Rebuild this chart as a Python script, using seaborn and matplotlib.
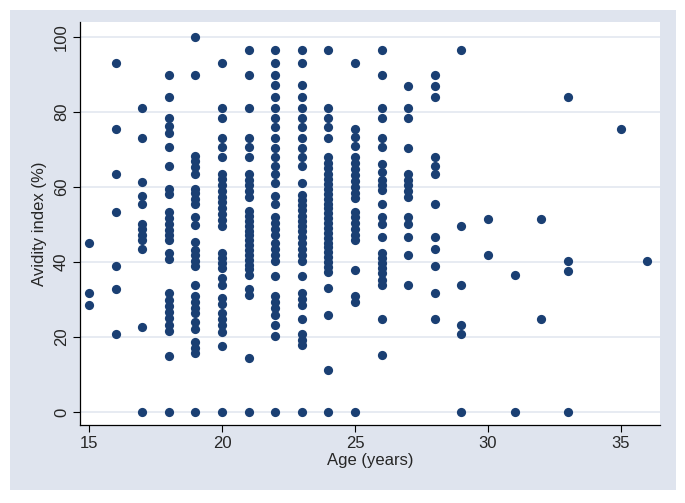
# avidity_scatter.py

import matplotlib
matplotlib.use('Agg')
import matplotlib.pyplot as plt
from matplotlib.patches import Rectangle
import pandas as pd
import seaborn as sns

# avidity index (%) read per age group
age15 = [45.0, 31.8, 28.6]
age16 = [93.2, 75.6, 63.5, 53.3, 38.9, 32.9, 20.9]
age17 = [81.2, 73.1, 61.4, 57.6, 55.5, 50.1, 48.7, 47.2, 45.9, 43.4, 22.6, 0]
age18 = [90.0, 83.9, 78.5, 76.3, 74.3, 70.8, 65.7, 59.6, 58.1, 53.4, 51.7, 50.1,
         48.6, 47.1, 45.8, 42.3, 40.7, 31.6, 29.9, 28.3, 26.7, 25.0, 23.2, 21.6, 14.8, 0]
age19 = [100, 90.0, 68.3, 67.0, 65.4, 63.5, 59.6, 58.3, 56.8, 55.4, 51.9, 49.9,
         45.4, 43.2, 41.9, 40.4, 38.9, 33.9, 30.8, 29.2, 27.6, 26.3, 23.9, 22.1,
         18.6, 17.0, 15.6, 0]
age20 = [93.2, 81.2, 78.5, 73.0, 70.8, 68.1, 63.6, 62.1, 60.5, 59.0, 57.4, 55.9,
         54.3, 52.8, 51.3, 49.7, 42.5, 41.0, 39.6, 38.3, 35.6, 33.8, 30.5, 28.7,
         26.3, 24.7, 23.1, 21.4, 17.6, 0]
age21 = [96.6, 90.0, 81.2, 73.0, 70.8, 68.1, 63.5, 62.0, 60.5, 59.0, 57.4, 53.6,
         52.3, 51.0, 49.7, 48.4, 47.1, 45.8, 44.5, 43.2, 41.9, 40.6, 39.3, 38.0,
         36.6, 32.9, 31.3, 14.5, 0]
age22 = [96.6, 93.2, 90.0, 87.2, 83.9, 81.2, 78.3, 75.9, 73.2, 70.5, 68.1, 65.7,
         63.5, 61.2, 57.6, 55.5, 51.9, 50.3, 48.7, 47.2, 45.2, 43.4, 41.9, 40.4,
         36.3, 31.0, 29.2, 27.6, 25.9, 23.2, 20.3, 0]
age23 = [96.6, 93.2, 87.2, 83.9, 81.2, 78.3, 75.9, 73.2, 70.5, 68.1, 65.7, 61.2,
         58.0, 56.6, 55.2, 53.8, 52.4, 51.0, 49.6, 48.2, 46.8, 45.0, 43.4, 41.9,
         40.4, 36.3, 31.8, 30.2, 28.6, 24.9, 20.7, 19.2, 17.9, 0]
age24 = [96.6, 81.2, 78.3, 75.9, 73.2, 68.1, 66.3, 65.0, 63.6, 62.2, 60.8, 59.5,
         58.2, 56.9, 55.6, 54.3, 53.0, 51.7, 50.4, 49.1, 47.8, 46.5, 45.2, 43.9,
         42.6, 41.3, 40.0, 38.7, 37.4, 33.0, 25.8, 11.2, 0]
age25 = [93.2, 75.6, 73.4, 70.9, 68.1, 66.3, 64.7, 63.2, 61.7, 60.1, 58.5, 57.0,
         53.4, 51.9, 50.3, 48.8, 47.2, 45.9, 37.9, 31.0, 29.4, 0]
age26 = [96.6, 90.0, 81.2, 78.3, 73.0, 70.8, 66.1, 64.1, 62.0, 60.6, 59.2, 55.4,
         52.1, 50.1, 46.6, 42.3, 41.0, 39.6, 38.3, 37.0, 35.2, 33.9, 24.7, 15.2]
age27 = [86.9, 81.2, 78.3, 70.5, 63.6, 62.0, 60.5, 59.0, 57.4, 51.9, 50.1, 46.6, 41.9, 33.9]
age28 = [90.0, 86.9, 83.9, 68.1, 65.7, 63.5, 55.4, 46.6, 43.4, 38.9, 31.6, 24.7]
age29 = [96.6, 49.7, 33.9, 23.2, 20.7, 0]
age30 = [51.6, 41.8]
age31 = [36.4, 0]
age32 = [51.6, 24.8]
age33 = [83.9, 40.4, 37.7, 0]
age35 = [75.6]
age36 = [40.4]

groups = {15: age15, 16: age16, 17: age17, 18: age18, 19: age19, 20: age20,
          21: age21, 22: age22, 23: age23, 24: age24, 25: age25, 26: age26,
          27: age27, 28: age28, 29: age29, 30: age30, 31: age31, 32: age32,
          33: age33, 35: age35, 36: age36}

x_ticks = [15, 20, 25, 30, 35]
y_ticks = [0, 20, 40, 60, 80, 100]

rows = [(age, v) for age, vals in groups.items() for v in vals]
df = pd.DataFrame(rows, columns=['age', 'avidity'])

sns.set_style('white')
plt.rcParams['font.family'] = ['Liberation Sans', 'DejaVu Sans']

fig = plt.figure(figsize=(6.85, 5.03), dpi=100, facecolor='white')
# stata-like outer panel
fig.patches.append(Rectangle((0.0146, 0.026), 0.972, 0.954, transform=fig.transFigure,
                             facecolor='#dfe4ee', edgecolor='none', zorder=-10))
ax = fig.add_axes([0.1168, 0.155, 0.8467, 0.801])
ax.set_facecolor('white')

for yt in y_ticks:
    ax.axhline(yt, color='#e3e7f0', linewidth=1.2, zorder=0)

sns.scatterplot(data=df, x='age', y='avidity', ax=ax, color='#1a3f73',
                s=44, linewidth=0, zorder=3)

ax.set_xlim(14.66, 36.47)
ax.set_ylim(-3.5, 104)
ax.set_xticks(x_ticks)
ax.set_yticks(y_ticks)
ax.set_yticklabels([str(t) for t in y_ticks], rotation=90, va='center')
ax.tick_params(axis='both', direction='out', length=5, width=0.8, color='black',
               labelsize=12, pad=3)
ax.tick_params(left=True, bottom=True)

for side in ['top', 'right']:
    ax.spines[side].set_visible(False)
for side in ['left', 'bottom']:
    ax.spines[side].set_color('black')
    ax.spines[side].set_linewidth(0.9)

ax.set_xlabel('Age (years)', fontsize=12, labelpad=1)
ax.set_ylabel('Avidity index (%)', fontsize=12, labelpad=5)

fig.savefig('out.png', dpi=100, facecolor='white')
